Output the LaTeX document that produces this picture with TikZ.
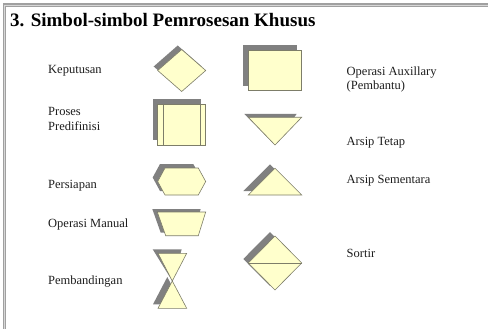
\documentclass[tikz,border=0pt]{standalone}
\usepackage{fontspec}
\setmainfont{Liberation Serif}
\definecolor{yel}{RGB}{255,255,204}
\definecolor{shd}{RGB}{128,128,128}
\definecolor{edgec}{RGB}{125,125,105}
\definecolor{txt}{RGB}{30,30,30}
\definecolor{framec}{RGB}{160,160,160}
\definecolor{framel}{RGB}{215,215,215}
\begin{document}
\begin{tikzpicture}[x=1pt,y=-1pt,
  lbl/.style={anchor=base west,inner sep=0pt,text=txt,font=\fontsize{12.5}{14}\selectfont},
  sym/.style={fill=yel,draw=edgec,line width=0.6pt,line join=miter},
  shadowfill/.style={fill=shd,draw=none}]
\useasboundingbox (0,0) rectangle (488,329);
\fill[white] (0,0) rectangle (488,329);
% frame (top and left)
\fill[framec] (2.7,3.3) rectangle (488,6.7);
\fill[framec] (2.7,3.3) rectangle (6,329);
\fill[framel] (4.0,5.0) rectangle (488,5.6);
\fill[framel] (4.1,5.0) rectangle (4.7,329);
% title
\node[anchor=base west,inner sep=0pt,font=\fontsize{19}{22}\selectfont\bfseries] (title) at (10,27) {3. Simbol-simbol Pemrosesan Khusus};
% labels
\node[lbl] (kep) at (48,74) {Keputusan};
\node[lbl] (pro1) at (48,115.7) {Proses};
\node[lbl] (pro2) at (48,130.7) {Predifinisi};
\node[lbl] (per) at (48,189) {Persiapan};
\node[lbl] (opm) at (48,227) {Operasi Manual};
\node[lbl] (pem) at (48,284) {Pembandingan};
\node[lbl] (opa1) at (346.5,75.5) {Operasi Auxillary};
\node[lbl] (opa2) at (346.5,90) {(Pembantu)};
\node[lbl] (art) at (346.5,145.5) {Arsip Tetap};
\node[lbl] (ars) at (346.5,183) {Arsip Sementara};
\node[lbl] (sor) at (346.5,257.5) {Sortir};
% Keputusan diamond
\fill[shadowfill,shift={(-4,-4)}] (157.7,70.5) -- (181.7,49.5) -- (205.7,70.5) -- (181.7,91.5) -- cycle;
\path[sym] (157.7,70.5) -- (181.7,49.5) -- (205.7,70.5) -- (181.7,91.5) -- cycle;
% Operasi Auxillary rectangle
\fill[shadowfill] (243.3,45) rectangle (296.7,85.7);
\path[sym] (248.3,50) rectangle (301.7,90.7);
% Proses Predifinisi
\fill[shadowfill] (152.5,99.5) rectangle (201.2,140.5);
\path[sym] (157,104) rectangle (205.7,145);
\draw[edgec,line width=0.6pt] (163,104) -- (163,145) (200.3,104) -- (200.3,145);
% Persiapan hexagon
\fill[shadowfill,shift={(-5,-4)}] (157.7,181.5) -- (165,168) -- (198.3,168) -- (205.7,181.5) -- (198.3,195) -- (165,195) -- cycle;
\path[sym] (157.7,181.5) -- (165,168) -- (198.3,168) -- (205.7,181.5) -- (198.3,195) -- (165,195) -- cycle;
% Operasi Manual trapezoid
\fill[shadowfill,shift={(-5,-3)}] (157.3,212) -- (205.7,212) -- (198.3,235.7) -- (165.7,235.7) -- cycle;
\path[sym] (157.3,212) -- (205.7,212) -- (198.3,235.7) -- (165.7,235.7) -- cycle;
% Pembandingan hourglass
\fill[shadowfill] (152.7,249.3) -- (181.7,249.3) -- (172.3,281) -- cycle;
\fill[shadowfill,shift={(-5,-4)}] (172.3,281) -- (158,308.3) -- (186.7,308.3) -- cycle;
\path[sym] (158,253.3) -- (186.7,253.3) -- (172.3,281) -- cycle;
\path[sym] (172.3,281) -- (158,308.3) -- (186.7,308.3) -- cycle;
% Arsip Tetap
\fill[shadowfill] (244.3,113.8) -- (296.7,113.8) -- (275,145) -- cycle;
\path[sym] (248.3,117.3) -- (301.7,117.3) -- (275,145) -- cycle;
% Arsip Sementara
\fill[shadowfill,shift={(-5,-4)}] (248.3,195) -- (301.7,195) -- (275,168.3) -- cycle;
\path[sym] (248.3,195) -- (301.7,195) -- (275,168.3) -- cycle;
% Sortir
\fill[shadowfill,shift={(-5,-4)}] (248.3,263) -- (275,236) -- (301.7,263) -- (275,290) -- cycle;
\path[sym] (248.3,263) -- (275,236) -- (301.7,263) -- (275,290) -- cycle;
\draw[edgec,line width=0.6pt] (248.3,263) -- (301.7,263);
\end{tikzpicture}
\end{document}
